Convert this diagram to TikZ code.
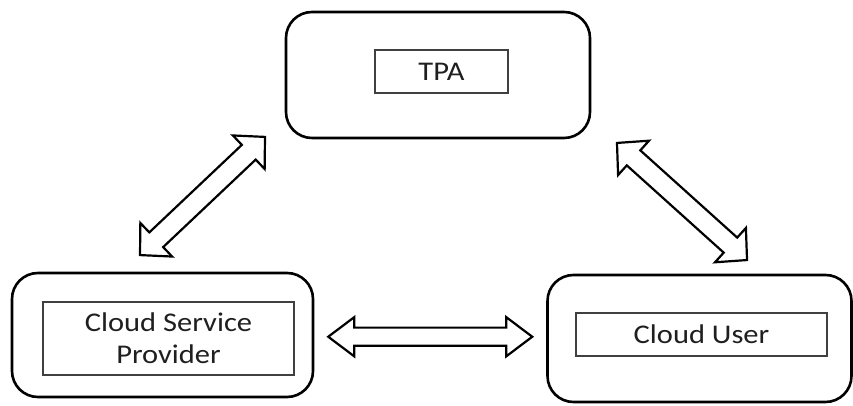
\documentclass[tikz,border=0pt]{standalone}
\usepackage{fontspec}
\setmainfont{Carlito}[FakeStretch=1.13]
\usetikzlibrary{shapes.arrows,calc}

\tikzset{
  outerbox/.style={draw=black, line width=2.6pt, rounded corners=26pt,
    minimum width=#1, inner sep=0pt, outer sep=0pt},
  labelbox/.style={draw=black!75, line width=1.2pt, fill=white,
    inner sep=0pt, outer sep=0pt, align=center, text=black!88,
    font=\fontsize{27}{32}\selectfont},
  linkarrow/.style={double arrow, draw=black, line width=2.2pt, fill=white,
    inner xsep=0pt, inner ysep=#1, outer sep=0pt, minimum width=0pt},
}

\begin{document}
\begin{tikzpicture}[x=1pt, y=1pt]
  \useasboundingbox (0,0) rectangle (853,406);

  % the three parties
  \node[outerbox=304pt, minimum height=126pt] (tpa) at (438,331) {};
  \node[outerbox=301pt, minimum height=124pt] (csp) at (162.5,71) {};
  \node[outerbox=304pt, minimum height=127pt] (cu)  at (699.5,67.5) {};

  % their labels
  \node[labelbox, minimum width=133pt, minimum height=43pt] (tpalbl) at (441.5,334.5) {TPA};
  \node[labelbox, minimum width=251pt, minimum height=73pt] (csplbl) at (168.5,67.5) {Cloud Service\\Provider};
  \node[labelbox, minimum width=251pt, minimum height=43pt] (culbl)  at (701.5,71.5) {Cloud User};

  % two-way links between the parties
  \node[linkarrow=8pt, double arrow head extend=10.5pt, double arrow tip angle=74,
        minimum height=204pt] (link-csp-cu) at ($(csp.east)!0.5!(cu.west)$) {};
  \node[linkarrow=9pt, double arrow head extend=13pt, double arrow tip angle=92,
        minimum height=172pt, rotate=43.4] (link-csp-tpa) at (202.5,210) {};
  \node[linkarrow=9pt, double arrow head extend=13pt, double arrow tip angle=92,
        minimum height=175pt, rotate=-42] (link-tpa-cu) at (682,204.5) {};
\end{tikzpicture}
\end{document}
